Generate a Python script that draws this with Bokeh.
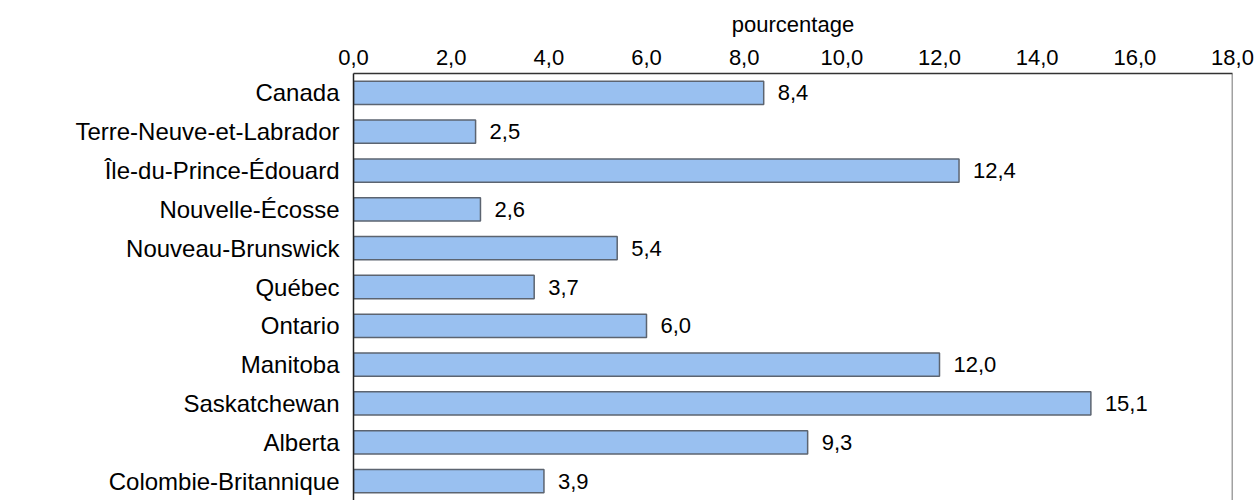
from bokeh.plotting import figure
from bokeh.models import FactorRange, Range1d, FixedTicker, ColumnDataSource, Span
from bokeh.core.properties import value
from bokeh.embed import file_html
from bokeh.resources import INLINE

# ---- data ----
categories = ["Canada", "Terre-Neuve-et-Labrador", "Île-du-Prince-Édouard", "Nouvelle-Écosse",
              "Nouveau-Brunswick", "Québec", "Ontario", "Manitoba", "Saskatchewan",
              "Alberta", "Colombie-Britannique"]
values = [8.4, 2.5, 12.4, 2.6, 5.4, 3.7, 6.0, 12.0, 15.1, 9.3, 3.9]
tick_values = [0, 2, 4, 6, 8, 10, 12, 14, 16, 18]
tick_labels = ["0,0", "2,0", "4,0", "6,0", "8,0", "10,0", "12,0", "14,0", "16,0", "18,0"]
axis_title = "pourcentage"

FONT = "Liberation Sans"
X_MAX = tick_values[-1]

value_labels = [f"{v:.1f}".replace(".", ",") for v in values]
source = ColumnDataSource(dict(cat=categories, val=values, lab=value_labels))

p = figure(width=1255, height=500, output_backend="svg", toolbar_location=None,
           y_range=FactorRange(*list(reversed(categories)), range_padding=0),
           x_range=Range1d(0, X_MAX), x_axis_location="above",
           min_border_left=353, min_border_right=23, min_border_top=73, min_border_bottom=0)
p.outline_line_color = None
p.grid.grid_line_color = None
p.background_fill_color = "white"

p.hbar(y="cat", right="val", left=0, height=0.6, source=source,
       fill_color="#99c0f0", line_color="#5c6470", line_width=1.5)

p.text(x="val", y="cat", text="lab", source=source, x_offset=14,
       text_baseline="middle", text_align="left",
       text_font=value(FONT), text_font_size="22px", text_color="black")

xa = p.xaxis[0]
xa.ticker = FixedTicker(ticks=tick_values)
xa.major_label_overrides = {t: l for t, l in zip(tick_values, tick_labels)}
xa.major_tick_in = 0
xa.major_tick_out = 0
xa.minor_tick_in = 0
xa.minor_tick_out = 0
xa.major_label_standoff = 9
xa.major_label_text_font = FONT
xa.major_label_text_font_size = "22px"
xa.major_label_text_color = "black"
xa.axis_label = axis_title
xa.axis_label_text_font = FONT
xa.axis_label_text_font_size = "22px"
xa.axis_label_text_font_style = "normal"
xa.axis_label_text_color = "black"
xa.axis_label_standoff = 10
xa.axis_line_color = "#333333"
xa.axis_line_width = 1.5

ya = p.yaxis[0]
ya.major_tick_in = 0
ya.major_tick_out = 0
ya.major_label_standoff = 14
ya.major_label_text_font = FONT
ya.major_label_text_font_size = "24px"
ya.major_label_text_color = "black"
ya.axis_line_color = "#222222"
ya.axis_line_width = 1.5

# right edge of the plot frame
p.add_layout(Span(location=X_MAX, dimension="height", line_color="#444444", line_width=1.5))

open("out.html", "w").write(file_html(p, INLINE))
